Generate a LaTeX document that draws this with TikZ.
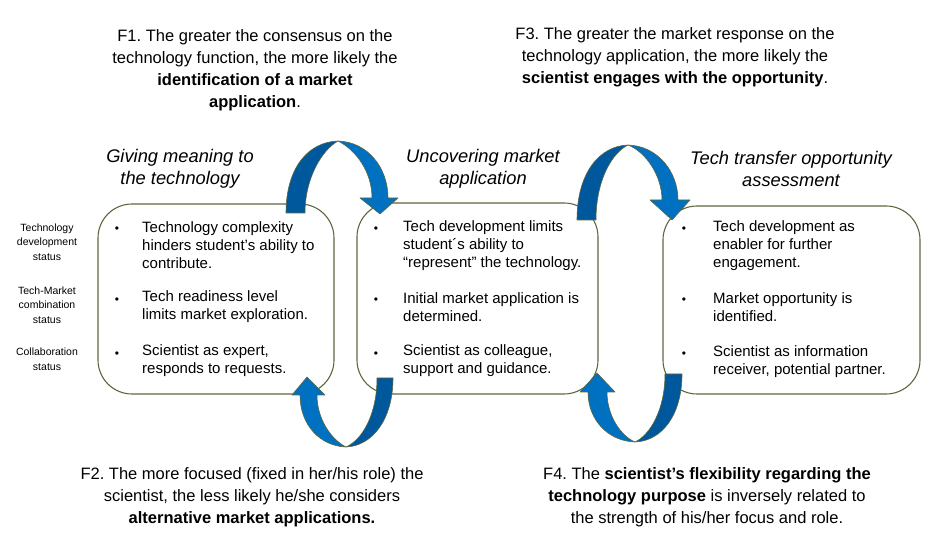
\documentclass[tikz,border=0pt]{standalone}
\usepackage{fontspec}
\setmainfont{Liberation Sans}
\usetikzlibrary{positioning}
\frenchspacing
\definecolor{boxline}{RGB}{94,104,64}
\definecolor{arrowdark}{RGB}{0,88,156}
\definecolor{arrowlight}{RGB}{0,112,192}
\tikzset{
  stagebox/.style={draw=boxline, line width=1.1pt, rounded corners=34pt, fill=white, inner sep=0pt},
  findtext/.style={align=center, font=\fontsize{16.5}{22}\selectfont, inner sep=0pt},
  stagetitle/.style={align=center, font=\fontsize{18.3}{22}\selectfont\itshape, inner sep=0pt},
  itemtext/.style={align=left, anchor=west, font=\fontsize{15}{18}\selectfont, inner sep=0pt},
  statuslabel/.style={align=center, font=\fontsize{10.5}{14.5}\selectfont, inner sep=0pt},
  bulletmark/.style={font=\fontsize{12}{12}\selectfont, inner sep=0pt},
  darkband/.style={fill=arrowdark, draw=boxline, line width=0.6pt},
  lightband/.style={fill=arrowlight, draw=boxline, line width=0.6pt},
}
\begin{document}
\begin{tikzpicture}[x=1pt,y=-1pt,line join=round,line cap=round]
\useasboundingbox (0,0) rectangle (935,534);
% the three stages
\node[stagebox, minimum width=236pt, minimum height=190pt] (box1) at (216,299) {};
\node[stagebox, minimum width=241pt, minimum height=191pt] (box2) at (477.5,298.5) {};
\node[stagebox, minimum width=257pt, minimum height=188pt] (box3) at (791.5,300) {};
% curved arrows between stages
\draw[darkband] (286,213) .. controls (286,168) and (308,142) .. (338,141) .. controls (322,150) and (305,178) .. (305,213) -- cycle;
\draw[lightband] (338,141) .. controls (368,142) and (388,168) .. (388,198) -- (398,198) -- (380,214) -- (360,198) -- (372,198) .. controls (372,172) and (356,150) .. (338,141) -- cycle;
\draw[darkband] (577,220) .. controls (577,172) and (600,146) .. (628,145) .. controls (612,153) and (596,180) .. (596,220) -- cycle;
\draw[lightband] (628,145) .. controls (658,146) and (678,172) .. (678,200) -- (690,200) -- (672,220) -- (650,200) -- (662,200) .. controls (662,176) and (646,152) .. (628,145) -- cycle;
\draw[lightband] (300,395) .. controls (300,425) and (320,446) .. (346,447) .. controls (332,440) and (317,420) .. (317,395) -- (325,395) -- (307,377) -- (292,395) -- cycle;
\draw[darkband] (346,447) .. controls (372,446) and (393,420) .. (393,378) -- (377,378) .. controls (377,415) and (362,440) .. (346,447) -- cycle;
\draw[lightband] (588,392) .. controls (588,420) and (608,441) .. (635,442) .. controls (621,436) and (607,416) .. (607,392) -- (615,392) -- (597,373) -- (580,392) -- cycle;
\draw[darkband] (635,442) .. controls (662,441) and (682,415) .. (682,374) -- (665,374) .. controls (665,410) and (650,435) .. (635,442) -- cycle;
% stage titles
\node[stagetitle] (title1) at (180,169) {Giving meaning to\\the technology};
\node[stagetitle] (title2) at (483,169) {Uncovering market\\application};
\node[stagetitle] (title3) at (791,169) {Tech transfer opportunity\\assessment};
% findings
\node[findtext] (f1) at (255,70) {F1. The greater the consensus on the\\technology function, the more likely the\\\textbf{identification of a market}\\\textbf{application}.};
\node[findtext] (f3) at (675,57) {F3. The greater the market response on the\\technology application, the more likely the\\\textbf{scientist engages with the opportunity}.};
\node[findtext] (f2) at (252,497) {F2. The more focused (fixed in her/his role) the\\scientist, the less likely he/she considers\\\textbf{alternative market applications.}};
\node[findtext] (f4) at (707,497) {F4. The \textbf{scientist’s flexibility regarding the}\\\textbf{technology purpose} is inversely related to\\the strength of his/her focus and role.};
% row labels
\node[statuslabel] (techstatus) at (47,242) {Technology\\development\\status};
\node[statuslabel] (marketstatus) at (47,305) {Tech-Market\\combination\\status};
\node[statuslabel] (collabstatus) at (47,359) {Collaboration\\status};
% bullets
\foreach \bx [count=\i] in {117,376,684}
  \foreach \by [count=\j] in {230,301,355}
    \node[bulletmark] (bullet-\i-\j) at (\bx,\by) {•};
% box contents
\node[itemtext] (item11) at (142,245) {Technology complexity\\hinders student’s ability to\\contribute.};
\node[itemtext] (item12) at (142,307) {Tech readiness level\\limits market exploration.};
\node[itemtext] (item13) at (142,361) {Scientist as expert,\\responds to requests.};
\node[itemtext] (item21) at (403,246) {Tech development limits\\student´s ability to\\“represent” the technology.};
\node[itemtext] (item22) at (403,307) {Initial market application is\\determined.};
\node[itemtext] (item23) at (403,361) {Scientist as colleague,\\support and guidance.};
\node[itemtext] (item31) at (713,246) {Tech development as\\enabler for further\\engagement.};
\node[itemtext] (item32) at (713,307) {Market opportunity is\\identified.};
\node[itemtext] (item33) at (713,362) {Scientist as information\\receiver, potential partner.};
\end{tikzpicture}
\end{document}
